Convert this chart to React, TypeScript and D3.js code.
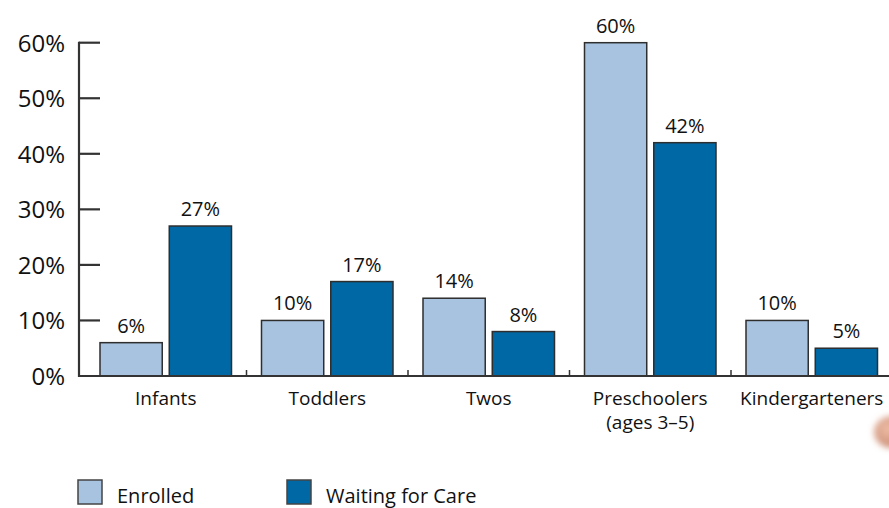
import React from "react";
import * as d3 from "d3";

const categories = ["Infants", "Toddlers", "Twos", "Preschoolers\n(ages 3–5)", "Kindergarteners"];
const enrolled = [6, 10, 14, 60, 10];
const waiting = [27, 17, 8, 42, 5];
const yTicks = [0, 10, 20, 30, 40, 50, 60];
const seriesNames = ["Enrolled", "Waiting for Care"];
const colors = ["#a8c3e0", "#0068a4"];

const W = 889;
const H = 508;
const FONT = "'Open Sans', 'DejaVu Sans', sans-serif";

export default function App() {
  const x = d3.scaleBand<number>().domain(d3.range(categories.length)).range([85, 85 + 161.5 * 5]).paddingInner(0).paddingOuter(0);
  const inner = d3.scaleBand<number>().domain([0, 1]).range([15, x.bandwidth() - 15]).paddingInner(7 / 69).paddingOuter(0);
  const y = d3.scaleLinear().domain([0, 60]).range([376, 42.7]);
  const axisColor = "#333";
  const bars: { i: number; s: number; v: number }[] = [];
  categories.forEach((_, i) => {
    bars.push({ i, s: 0, v: enrolled[i] });
    bars.push({ i, s: 1, v: waiting[i] });
  });
  return (
    <svg width={W} height={H} style={{ position: "fixed", left: 0, top: 0, background: "#fff" }} fontFamily={FONT}>
      <defs>
        <filter id="blur" x="-50%" y="-50%" width="200%" height="200%">
          <feGaussianBlur stdDeviation="3" />
        </filter>
        <radialGradient id="skin" cx="40%" cy="40%" r="60%">
          <stop offset="0%" stopColor="#f0c0a8" />
          <stop offset="100%" stopColor="#c98a72" />
        </radialGradient>
      </defs>
      {/* bars */}
      {bars.map((b, k) => {
        const bx = (x(b.i) as number) + (inner(b.s) as number);
        const bw = inner.bandwidth();
        return (
          <g key={k}>
            <rect x={bx} y={y(b.v)} width={bw} height={y(0) - y(b.v)} fill={colors[b.s]} stroke="#2e2e2e" strokeWidth={1.5} />
            <text x={bx + bw / 2} y={y(b.v) - 10} textAnchor="middle" fontSize={20} fill="#111">{b.v}%</text>
          </g>
        );
      })}
      {/* y axis */}
      <line x1={79} x2={79} y1={y(60) - 1} y2={y(0) + 1} stroke={axisColor} strokeWidth={2.2} />
      {yTicks.map((t) => (
        <g key={t}>
          {t > 0 && <line x1={79} x2={100} y1={y(t)} y2={y(t)} stroke={axisColor} strokeWidth={2.2} />}
          <text x={65} y={y(t) + 9} textAnchor="end" fontSize={24} fill="#111">{t}%</text>
        </g>
      ))}
      {/* x axis */}
      <line x1={78} x2={W} y1={y(0)} y2={y(0)} stroke={axisColor} strokeWidth={2.2} />
      {d3.range(1, categories.length).map((i) => (
        <line key={i} x1={x(i) as number} x2={x(i) as number} y1={y(0)} y2={y(0) - 6} stroke={axisColor} strokeWidth={1.5} />
      ))}
      {categories.map((c, i) =>
        c.split("\n").map((line, j) => (
          <text key={c + j} x={(x(i) as number) + x.bandwidth() / 2} y={405 + j * 24} textAnchor="middle" fontSize={19} fill="#111">
            {line}
          </text>
        ))
      )}
      {/* legend */}
      {seriesNames.map((s, k) => {
        const lx = k === 0 ? 78 : 287;
        return (
          <g key={s}>
            <rect x={lx} y={480} width={24} height={24} fill={colors[k]} stroke="#444" strokeWidth={1.5} />
            <text x={lx + 39} y={503} fontSize={20} fill="#111">{s}</text>
          </g>
        );
      })}
      {/* fingertip artifact */}
      <ellipse cx={892} cy={432} rx={18} ry={16} fill="url(#skin)" filter="url(#blur)" />
    </svg>
  );
}
